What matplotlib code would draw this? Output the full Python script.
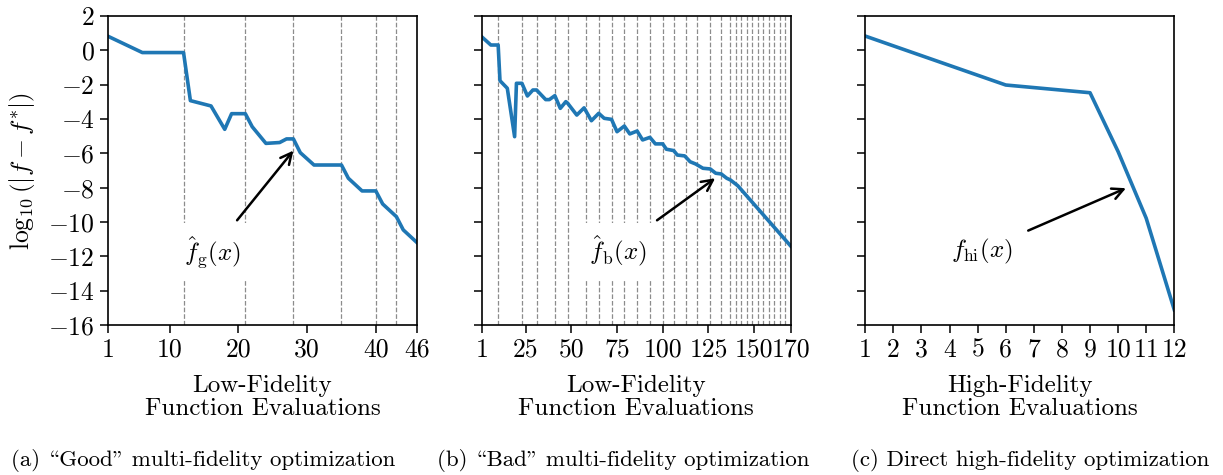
# convergence of multi-fidelity vs direct high-fidelity optimization, three panels side by side

import matplotlib
matplotlib.use("Agg")
from matplotlib import pyplot as plt

plt.rcParams["font.family"] = ["cmr10", "DejaVu Serif"]
plt.rcParams["mathtext.fontset"] = "cm"
plt.rcParams["axes.formatter.use_mathtext"] = True
plt.rcParams["axes.unicode_minus"] = True

# (a) "good" low-fidelity model
good_x = [1, 6, 12, 13, 16, 18, 19, 21, 22, 24, 26, 27, 28, 29, 31, 35, 36, 38, 40, 41, 43, 44, 46]
good_y = [0.82, -0.13, -0.13, -2.93, -3.24, -4.6, -3.69, -3.69, -4.45, -5.42, -5.37, -5.16, -5.16,
          -5.96, -6.68, -6.68, -7.45, -8.19, -8.19, -8.95, -9.69, -10.46, -11.2]
good_hifi = [12, 21, 28, 35, 40, 43]
good_ticks = [1, 10, 20, 30, 40, 46]

# (b) "bad" low-fidelity model
bad_x = [1, 6, 10, 11, 15, 19, 20, 23, 26, 29, 31, 36, 38, 41, 44, 47, 48, 53, 57, 61, 65, 68, 72,
         75, 79, 82, 86, 89, 93, 96, 100, 102, 106, 108, 112, 115, 118, 122, 126, 129, 132, 135,
         137, 141, 170]
bad_y = [0.79, 0.31, 0.31, -1.77, -2.21, -5.03, -1.92, -1.92, -2.66, -2.31, -2.31, -2.87, -2.87,
         -2.64, -3.38, -2.99, -3.08, -3.77, -3.35, -4.10, -3.67, -3.96, -4.02, -4.74, -4.41, -4.87,
         -4.70, -5.22, -5.07, -5.45, -5.45, -5.76, -5.84, -6.10, -6.15, -6.49, -6.62, -6.87, -6.91,
         -7.16, -7.20, -7.45, -7.55, -7.88, -11.40]
bad_hifi = [10, 23, 31, 41, 48, 58, 65, 72, 79, 86, 93, 100, 106, 113, 119, 126, 132, 137, 140,
            143, 146, 149, 152, 155, 158, 161, 164, 167]
bad_ticks = [1, 25, 50, 75, 100, 125, 150, 170]

# (c) high-fidelity only
hi_x = [1, 6, 9, 10, 11, 12]
hi_y = [0.83, -2.02, -2.47, -5.9, -9.78, -15.12]
hi_ticks = list(range(1, 13))

labels = [r"$\hat{f}_{\rm g}(x)$", r"$\hat{f}_{\rm b}(x)$", r"$f_{\rm hi}(x)$"]
label_pos = [(16.2, -11.74), (75.4, -11.74), (5.14, -11.73)]
arrow_tail = [(19.8, -9.9), (96.9, -9.9), (6.8, -10.5)]
arrow_head = [(28.0, -5.84), (128.7, -7.45), (10.28, -8.03)]
xlabels = ["Low-Fidelity\nFunction Evaluations", "Low-Fidelity\nFunction Evaluations",
           "High-Fidelity\nFunction Evaluations"]
# cmr10 uses the TeX OT1 slots: backslash -> left double quote, '"' -> right double quote
captions = ["(a) \\Good\" multi-fidelity optimization",
            "(b) \\Bad\" multi-fidelity optimization",
            "(c) Direct high-fidelity optimization"]
caption_x = [203, 623, 1030]

fig = plt.figure(figsize=(12.23, 4.75), dpi=100)
lefts = [108, 481.7, 865.3]
axes = [fig.add_axes([l / 1223, 150 / 475, 309 / 1223, 309 / 475]) for l in lefts]

data = [(good_x, good_y, good_hifi, good_ticks), (bad_x, bad_y, bad_hifi, bad_ticks),
        (hi_x, hi_y, [], hi_ticks)]

for i, ax in enumerate(axes):
	xs, ys, hifi, ticks = data[i]
	for h in hifi:
		ax.axvline(h, ls="--", color="#8c8c8c", lw=0.9, zorder=1)
	ax.plot(xs, ys, color="#1f77b4", lw=2.6, zorder=2)
	ax.set_xlim(ticks[0], ticks[-1])
	ax.set_ylim(-16, 2)
	ax.set_xticks(ticks)
	ax.set_xticklabels([str(t) for t in ticks])
	ax.set_yticks(range(-16, 3, 2))
	if i > 0:
		ax.set_yticklabels([])
	ax.tick_params(labelsize=18.5, length=6, width=1.1)
	for sp in ax.spines.values():
		sp.set_linewidth(1.2)
	ax.set_xlabel(xlabels[i], fontsize=18, linespacing=1.1, labelpad=9)
	ax.text(label_pos[i][0], label_pos[i][1], labels[i], fontsize=18, ha="center", va="center",
	        zorder=3, bbox=dict(facecolor="white", edgecolor="none", pad=8))
	ax.annotate("", xy=arrow_head[i], xytext=arrow_tail[i], zorder=4,
	            arrowprops=dict(arrowstyle="->", color="black", lw=1.8, mutation_scale=20,
	                            shrinkA=0, shrinkB=0))
	fig.text(caption_x[i] / 1223, 1 - 461 / 475, captions[i], fontsize=16.5, ha="center", va="center")

axes[0].set_ylabel(r"$\log_{10}\left(|f - f^{*}|\right)$", fontsize=18.5, labelpad=8)

fig.savefig("out.png", dpi=100)
